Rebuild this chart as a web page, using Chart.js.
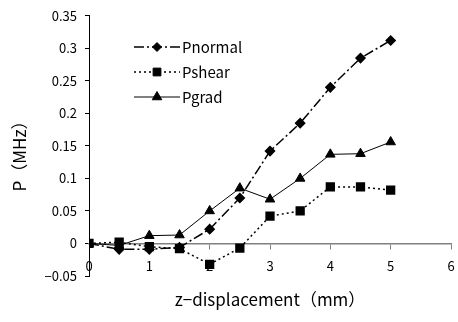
<!DOCTYPE html>
<html>
<head>
<meta charset="utf-8">
<script src="https://cdn.jsdelivr.net/npm/chart.js@4"></script>
<style>
  html, body { margin: 0; padding: 0; background: #fff; }
</style>
</head>
<body>
<canvas id="grafico" width="458" height="322"></canvas>
<script>
const deslocamentos = [0, 0.5, 1, 1.5, 2, 2.5, 3, 3.5, 4, 4.5, 5];
const pNormal = [0, -0.009, -0.009, -0.006, 0.022, 0.07, 0.142, 0.185, 0.24, 0.285, 0.312];
const pShear = [0, 0.002, -0.005, -0.008, -0.032, -0.007, 0.042, 0.05, 0.087, 0.087, 0.082];
const pGrad = [0, -0.003, 0.012, 0.013, 0.05, 0.085, 0.068, 0.1, 0.137, 0.138, 0.156];
const nomesSeries = ['Pnormal', 'Pshear', 'Pgrad'];
const tituloX = 'z\u2212displacement\uFF08mm\uFF09';
const tituloY = 'P\uFF08MHz\uFF09';

const fonte = '"Noto Sans CJK JP", "Noto Sans", sans-serif';

function pontos(valores) {
  return valores.map((v, i) => ({ x: deslocamentos[i], y: v }));
}

// titulos e legenda desenhados a mao
const extras = {
  id: 'extras',
  afterDraw(chart) {
    const ctx = chart.ctx;
    ctx.save();
    ctx.fillStyle = '#000';
    ctx.textAlign = 'center';
    ctx.textBaseline = 'middle';
    ctx.font = '17px ' + fonte;
    ctx.fillText(tituloX, 270, 300);
    ctx.translate(20, 152);
    ctx.rotate(-Math.PI / 2);
    ctx.fillText(tituloY, 0, 0);
    ctx.restore();

    chart.data.datasets.forEach((ds, i) => {
      const y = 47 + i * 25;
      ctx.save();
      ctx.strokeStyle = '#000';
      ctx.lineWidth = ds.borderWidth;
      ctx.setLineDash(ds.borderDash || []);
      ctx.beginPath();
      ctx.moveTo(134, y);
      ctx.lineTo(180, y);
      ctx.stroke();
      ctx.setLineDash([]);
      ctx.fillStyle = '#000';
      ctx.lineWidth = 1;
      Chart.helpers.drawPoint(ctx, { pointStyle: ds.pointStyle, radius: ds.pointRadius, rotation: 0, borderWidth: 1 }, 157, y);
      ctx.font = '15px ' + fonte;
      ctx.textAlign = 'left';
      ctx.textBaseline = 'middle';
      ctx.fillText(ds.label, 182, y);
      ctx.restore();
    });
  }
};

new Chart(document.getElementById('grafico'), {
  type: 'line',
  data: {
    datasets: [
      {
        label: nomesSeries[0],
        data: pontos(pNormal),
        borderColor: '#000',
        backgroundColor: '#000',
        borderWidth: 1.5,
        borderDash: [10, 3, 2, 3],
        pointStyle: 'rectRot',
        pointRadius: 4.5
      },
      {
        label: nomesSeries[1],
        data: pontos(pShear),
        borderColor: '#000',
        backgroundColor: '#000',
        borderWidth: 1.5,
        borderDash: [2, 3],
        pointStyle: 'rect',
        pointRadius: 5.5
      },
      {
        label: nomesSeries[2],
        data: pontos(pGrad),
        borderColor: '#000',
        backgroundColor: '#000',
        borderWidth: 1,
        pointStyle: 'triangle',
        pointRadius: 5.5
      }
    ]
  },
  options: {
    responsive: false,
    animation: false,
    layout: { padding: { left: 0, right: 0, top: 15, bottom: 46 } },
    plugins: {
      legend: { display: false },
      tooltip: { enabled: false }
    },
    scales: {
      x: {
        type: 'linear',
        position: { y: 0 },
        min: 0,
        max: 6,
        ticks: {
          stepSize: 1,
          padding: 10,
          color: '#000',
          font: { family: fonte, size: 13 }
        },
        grid: { drawOnChartArea: false, drawTicks: true, tickLength: 5, color: '#808080' },
        border: { color: '#808080', width: 1.5 },
        afterFit: (escala) => { escala.paddingRight = 0; escala.paddingLeft = 0; }
      },
      y: {
        min: -0.05,
        max: 0.35,
        ticks: {
          stepSize: 0.05,
          padding: 8,
          color: '#000',
          font: { family: fonte, size: 13 },
          callback: (v) => {
            const r = Math.round(v * 100) / 100;
            return r < 0 ? '\u2212' + Math.abs(r) : String(r);
          }
        },
        grid: { drawOnChartArea: false, drawTicks: true, tickLength: 4, color: '#000' },
        border: { color: '#000', width: 1 },
        afterFit: (escala) => { escala.width = 89; }
      }
    }
  },
  plugins: [extras]
});
</script>
</body>
</html>
